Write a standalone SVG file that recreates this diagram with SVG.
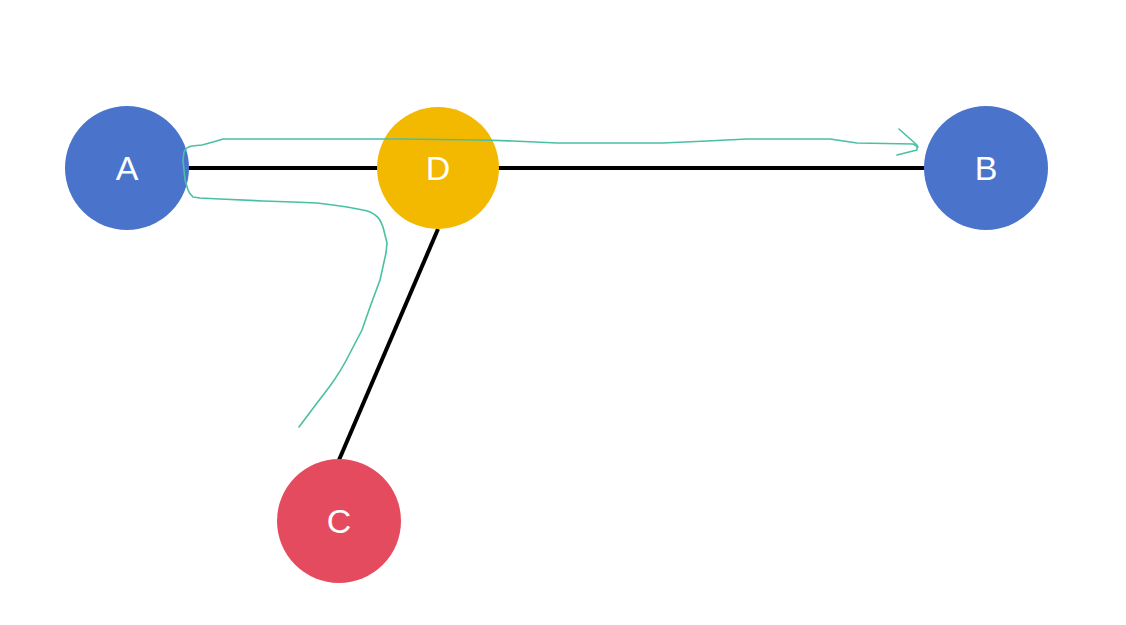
<svg xmlns="http://www.w3.org/2000/svg" width="1126" height="625" viewBox="0 0 1126 625">
<style>
.lbl{font-family:"Liberation Sans",Arial,sans-serif;font-size:34px;fill:#ffffff;text-anchor:middle}
.edge{stroke:#000;stroke-width:4;fill:none}
.ink{fill:none;stroke:#49c0a2;stroke-width:1.6;stroke-linecap:round;stroke-linejoin:round}
</style>
<rect width="1126" height="625" fill="#ffffff"/>
<g id="connectors">
<line class="edge" x1="187" y1="168" x2="378" y2="168"/>
<line class="edge" x1="498" y1="168" x2="925" y2="168"/>
<line class="edge" x1="438" y1="229" x2="339" y2="460"/>
</g>
<g id="node-A"><circle cx="127" cy="168" r="62" fill="#4a74cc"/><text class="lbl" x="127" y="180">A</text></g>
<g id="node-D"><circle cx="438" cy="168" r="61" fill="#f2b900"/><text class="lbl" x="438" y="180">D</text></g>
<g id="node-B"><circle cx="986" cy="168" r="62" fill="#4a74cc"/><text class="lbl" x="986" y="180">B</text></g>
<g id="node-C"><circle cx="339" cy="521" r="62" fill="#e54b5e"/><text class="lbl" x="339" y="533">C</text></g>
<g id="sketch">
<path class="ink" d="M299,427 L314,407 L330,386 Q341,371 350,353 L362,330 L370,307 L380,280 L386,253 L387,243 L383,227 Q380,218 375,215 Q370,211 363,210 L347,207 L333,205 L317,203 L293,202 L263,201 L220,199 L200,198 L193,197 Q189,193 188,190 L185,180 L183,160 L184,152 Q186,147 192,146 L202,145 L213,142 L223,139 L400,139 L480,140 L513,141 L557,143 L663,143 L707,141 L747,139 L830,139 L857,143 L913,144 L918,147"/>
<path class="ink" d="M899,129 L917,145 L917,150 L897,155"/>
</g>
</svg>
